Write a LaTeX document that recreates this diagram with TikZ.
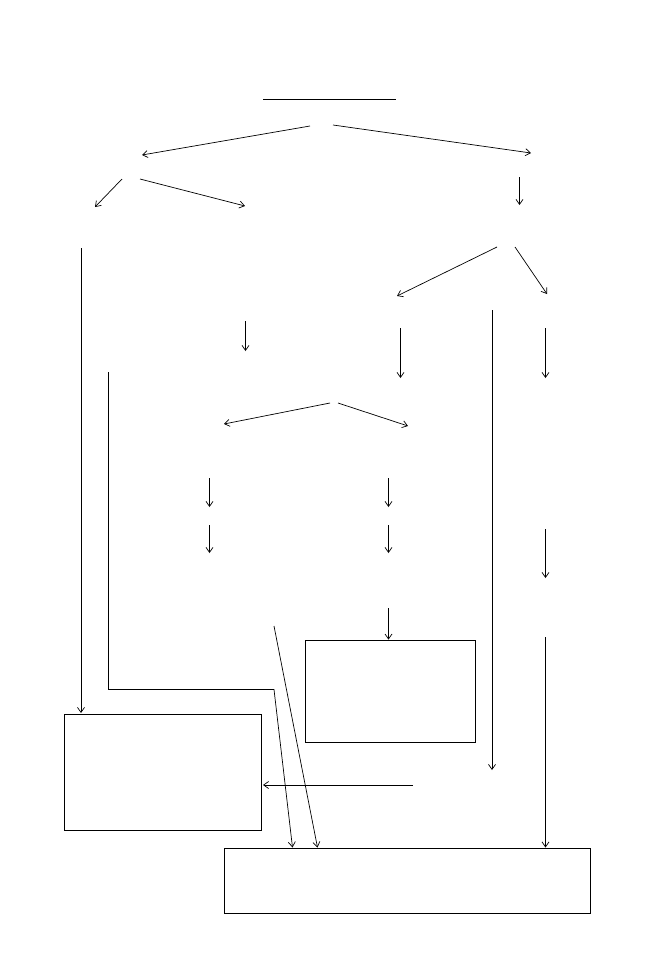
\documentclass[tikz,border=0pt]{standalone}
\usetikzlibrary{arrows.meta}
\begin{document}
\begin{tikzpicture}[x=1pt,y=-1pt,
  conn/.style={line width=0.7pt,-{Straight Barb[length=5pt,width=7pt,line width=0.7pt]}},
  plain/.style={line width=0.7pt},
  boxn/.style={draw,line width=0.8pt,inner sep=0pt}]
\useasboundingbox (0,0) rectangle (659,978);
% boxes
\node[boxn,minimum width=197pt,minimum height=116pt] (lbox) at (162.5,772) {};
\node[boxn,minimum width=170pt,minimum height=102pt] (mbox) at (390,691) {};
\node[boxn,minimum width=366pt,minimum height=65pt] (bbox) at (407,880.5) {};
% coordinates
\coordinate (t1) at (263,99); \coordinate (t2) at (396,99);
\coordinate (a1s) at (310,126); \coordinate (a1e) at (142,155);
\coordinate (a2s) at (333,125); \coordinate (a2e) at (531,153);
\coordinate (b1s) at (122,179); \coordinate (b1e) at (95,207);
\coordinate (b2s) at (140,179); \coordinate (b2e) at (245,206);
\coordinate (c1s) at (519.5,177); \coordinate (c1e) at (519.5,205);
\coordinate (l1s) at (81,248); \coordinate (l1e) at (81,713);
\coordinate (d1s) at (497,247); \coordinate (d1e) at (397,296);
\coordinate (d2s) at (515,247); \coordinate (d2e) at (547,294);
\coordinate (e1s) at (245.5,321); \coordinate (e1e) at (245.5,351);
\coordinate (e2s) at (400.5,328); \coordinate (e2e) at (400.5,378);
\coordinate (l2s) at (492,310); \coordinate (l2e) at (492,770);
\coordinate (e3s) at (545.5,328); \coordinate (e3e) at (545.5,378);
\coordinate (p1) at (108.5,372); \coordinate (p2) at (108.5,689.5); \coordinate (p3) at (274,689.5); \coordinate (p4) at (292.5,847.5);
\coordinate (f1s) at (330,403); \coordinate (f1e) at (224,424);
\coordinate (f2s) at (338,403); \coordinate (f2e) at (408,426);
\coordinate (g1s) at (209.5,478); \coordinate (g1e) at (209.5,507);
\coordinate (g2s) at (388.5,478); \coordinate (g2e) at (388.5,507);
\coordinate (h1s) at (209.5,525); \coordinate (h1e) at (209.5,553);
\coordinate (h2s) at (388.5,525); \coordinate (h2e) at (388.5,553);
\coordinate (h3s) at (545.5,529); \coordinate (h3e) at (545.5,578);
\coordinate (i1s) at (388.5,608);
\coordinate (j1s) at (274,626); \coordinate (j1e) at (317.5,847.5);
\coordinate (k1s) at (545.5,637); \coordinate (k1e) at (545.5,847.5);
\coordinate (m1s) at (413,785); \coordinate (m1e) at (263,785);
% connectors
\draw[plain] (t1) -- (t2);
\draw[conn] (a1s) -- (a1e);
\draw[conn] (a2s) -- (a2e);
\draw[conn] (b1s) -- (b1e);
\draw[conn] (b2s) -- (b2e);
\draw[conn] (c1s) -- (c1e);
\draw[conn] (l1s) -- (l1e);
\draw[conn] (d1s) -- (d1e);
\draw[conn] (d2s) -- (d2e);
\draw[conn] (e1s) -- (e1e);
\draw[conn] (e2s) -- (e2e);
\draw[conn] (l2s) -- (l2e);
\draw[conn] (e3s) -- (e3e);
\draw[conn] (p1) -- (p2) -- (p3) -- (p4);
\draw[conn] (f1s) -- (f1e);
\draw[conn] (f2s) -- (f2e);
\draw[conn] (g1s) -- (g1e);
\draw[conn] (g2s) -- (g2e);
\draw[conn] (h1s) -- (h1e);
\draw[conn] (h2s) -- (h2e);
\draw[conn] (h3s) -- (h3e);
\draw[conn] (i1s) -- (i1s |- mbox.north);
\draw[conn] (j1s) -- (j1e);
\draw[conn] (k1s) -- (k1e);
\draw[conn] (m1s) -- (m1e);
\end{tikzpicture}
\end{document}
